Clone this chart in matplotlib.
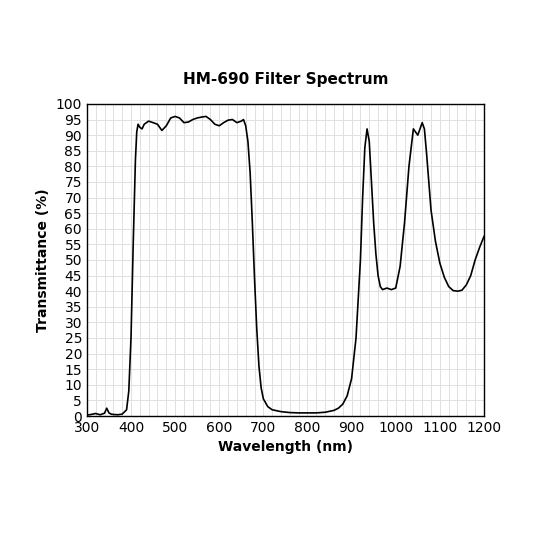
import matplotlib.pyplot as plt
import numpy as np

# Transmission curve (rows kept aligned)
wavelength = [300, 310, 320, 330, 340, 345, 350, 355, 360, 370,
              380, 390, 395, 400, 405, 410, 413, 416, 420, 425,
              430, 440, 450, 460, 470, 480, 490, 500, 510, 520,
              530, 540, 550, 560, 570, 580, 590, 600, 610, 620,
              630, 640, 650, 655, 660, 665, 670, 675, 680, 685,
              690, 695, 700, 710, 720, 740, 760, 780, 800, 820,
              840, 860, 870, 880, 890, 900, 910, 920, 925, 930,
              935, 940, 945, 950, 955, 960, 965, 970, 980, 990,
              1000, 1010, 1020, 1030, 1040, 1050, 1060, 1065, 1070, 1080,
              1090, 1100, 1110, 1120, 1130, 1140, 1150, 1160, 1170, 1180,
              1190, 1200]
transmittance = [0.3, 0.5, 0.8, 0.4, 0.9, 2.5, 1.0, 0.6, 0.5, 0.4,
                 0.6, 2.0, 8, 25, 55, 82, 91, 93.5, 92.5, 92.0,
                 93.5, 94.5, 94.0, 93.5, 91.5, 93.0, 95.5, 96.0, 95.5, 94.0,
                 94.2, 95.0, 95.5, 95.8, 96.0, 95.0, 93.5, 93.0, 94.0, 94.8,
                 95.0, 94.0, 94.5, 95.0, 93.0, 88, 78, 62, 44, 28,
                 16, 9, 5.5, 3.0, 2.0, 1.4, 1.1, 1.0, 1.0, 1.0,
                 1.2, 1.8, 2.5, 3.8, 6.5, 12, 25, 50, 70, 86,
                 92, 88, 75, 62, 52, 45, 41.5, 40.5, 41.0, 40.5,
                 41, 48, 62, 80, 92, 90, 94, 92, 84, 66,
                 56, 49, 44.5, 41.5, 40.2, 40.0, 40.3, 42.0, 45.0, 50.0,
                 54.0, 57.5]

fig = plt.figure(figsize=(5.33, 5.33), dpi=100)
ax = fig.add_axes([0.163, 0.2195, 0.745, 0.5855])

ax.plot(wavelength, transmittance, color='black', linewidth=1.2)

ax.set_xlim(300, 1200)
ax.set_ylim(0, 100)
ax.set_xticks(np.arange(300, 1201, 100))
ax.set_xticks(np.arange(300, 1201, 20), minor=True)
ax.set_yticks(np.arange(0, 101, 5))
ax.tick_params(which='both', length=0, labelsize=10)
ax.grid(True, which='both', color='#e0e0e0', linewidth=0.7)
ax.set_axisbelow(True)
for s in ax.spines.values():
    s.set_linewidth(1.0)

ax.set_title('HM-690 Filter Spectrum', fontsize=11, fontweight='bold', pad=14)
ax.set_xlabel('Wavelength (nm)', fontsize=10, fontweight='bold')
ax.set_ylabel('Transmittance (%)', fontsize=10, fontweight='bold')

fig.savefig('out.png', dpi=100)
